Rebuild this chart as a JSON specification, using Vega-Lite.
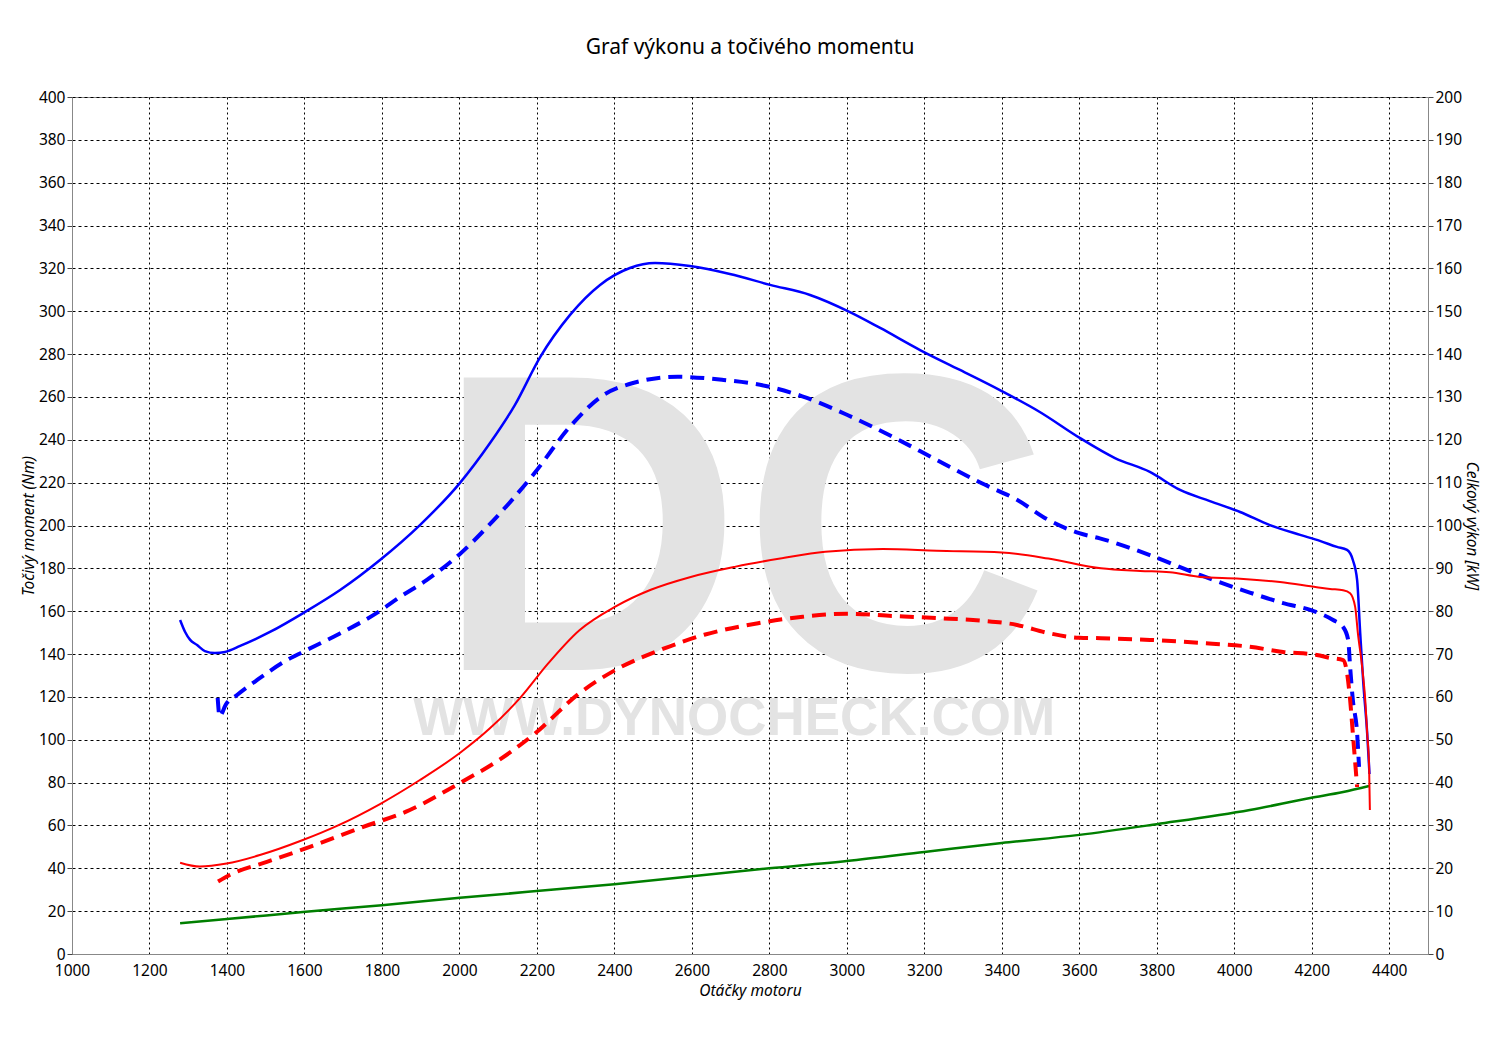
{
  "$schema": "https://vega.github.io/schema/vega-lite/v6.json",
  "width": 1356,
  "height": 857,
  "autosize": {"type": "none"},
  "padding": {"left": 72, "top": 97, "right": 72, "bottom": 87},
  "background": "white",
  "title": {"text": "Graf výkonu a točivého momentu", "font": "Noto Sans", "fontSize": 21, "fontWeight": "normal", "color": "#000", "anchor": "middle", "offset": 32},
  "config": {
    "view": {"stroke": "#888", "strokeWidth": 1},
    "axis": {"labelFont": "Noto Sans", "labelFontSize": 15.5, "labelColor": "#000", "titleFont": "Noto Sans", "titleFontSize": 15.5, "titleFontStyle": "italic", "titleFontWeight": "normal", "titleColor": "#000", "domainColor": "#888", "tickColor": "#444", "tickSize": 5, "format": "d"}
  },
  "datasets": {
    "torque": [
      {"rpm": 1279, "value": 155.9, "series": "tuned"},
      {"rpm": 1292, "value": 150.3, "series": "tuned"},
      {"rpm": 1305, "value": 146.6, "series": "tuned"},
      {"rpm": 1323, "value": 144.2, "series": "tuned"},
      {"rpm": 1343, "value": 141.4, "series": "tuned"},
      {"rpm": 1369, "value": 140.5, "series": "tuned"},
      {"rpm": 1395, "value": 141.0, "series": "tuned"},
      {"rpm": 1434, "value": 143.8, "series": "tuned"},
      {"rpm": 1511, "value": 150.3, "series": "tuned"},
      {"rpm": 1601, "value": 159.6, "series": "tuned"},
      {"rpm": 1692, "value": 169.9, "series": "tuned"},
      {"rpm": 1795, "value": 183.9, "series": "tuned"},
      {"rpm": 1898, "value": 200.2, "series": "tuned"},
      {"rpm": 2001, "value": 219.8, "series": "tuned"},
      {"rpm": 2079, "value": 238.5, "series": "tuned"},
      {"rpm": 2143, "value": 256.2, "series": "tuned"},
      {"rpm": 2208, "value": 278.5, "series": "tuned"},
      {"rpm": 2285, "value": 298.2, "series": "tuned"},
      {"rpm": 2363, "value": 312.3, "series": "tuned"},
      {"rpm": 2440, "value": 320.2, "series": "tuned"},
      {"rpm": 2505, "value": 322.5, "series": "tuned"},
      {"rpm": 2595, "value": 321.1, "series": "tuned"},
      {"rpm": 2698, "value": 317.4, "series": "tuned"},
      {"rpm": 2802, "value": 312.3, "series": "tuned"},
      {"rpm": 2905, "value": 307.6, "series": "tuned"},
      {"rpm": 3008, "value": 299.6, "series": "tuned"},
      {"rpm": 3086, "value": 292.2, "series": "tuned"},
      {"rpm": 3189, "value": 281.9, "series": "tuned"},
      {"rpm": 3292, "value": 272.6, "series": "tuned"},
      {"rpm": 3395, "value": 263.2, "series": "tuned"},
      {"rpm": 3498, "value": 253.0, "series": "tuned"},
      {"rpm": 3602, "value": 240.8, "series": "tuned"},
      {"rpm": 3692, "value": 231.5, "series": "tuned"},
      {"rpm": 3782, "value": 225.0, "series": "tuned"},
      {"rpm": 3860, "value": 216.6, "series": "tuned"},
      {"rpm": 3937, "value": 211.4, "series": "tuned"},
      {"rpm": 4015, "value": 206.3, "series": "tuned"},
      {"rpm": 4092, "value": 200.2, "series": "tuned"},
      {"rpm": 4170, "value": 195.6, "series": "tuned"},
      {"rpm": 4221, "value": 192.8, "series": "tuned"},
      {"rpm": 4265, "value": 190.0, "series": "tuned"},
      {"rpm": 4291, "value": 188.6, "series": "tuned"},
      {"rpm": 4306, "value": 183.9, "series": "tuned"},
      {"rpm": 4317, "value": 174.6, "series": "tuned"},
      {"rpm": 4325, "value": 149.8, "series": "tuned"},
      {"rpm": 4333, "value": 126.5, "series": "tuned"},
      {"rpm": 4343, "value": 103.1, "series": "tuned"},
      {"rpm": 4349, "value": 84.0, "series": "tuned"},
      {"rpm": 1376, "value": 119.5, "series": "stock"},
      {"rpm": 1381, "value": 110.9, "series": "stock"},
      {"rpm": 1397, "value": 116.4, "series": "stock"},
      {"rpm": 1426, "value": 120.9, "series": "stock"},
      {"rpm": 1478, "value": 127.9, "series": "stock"},
      {"rpm": 1555, "value": 137.2, "series": "stock"},
      {"rpm": 1596, "value": 141.0, "series": "stock"},
      {"rpm": 1674, "value": 148.0, "series": "stock"},
      {"rpm": 1787, "value": 159.2, "series": "stock"},
      {"rpm": 1848, "value": 166.8, "series": "stock"},
      {"rpm": 1916, "value": 174.6, "series": "stock"},
      {"rpm": 2000, "value": 186.5, "series": "stock"},
      {"rpm": 2078, "value": 200.5, "series": "stock"},
      {"rpm": 2194, "value": 224.5, "series": "stock"},
      {"rpm": 2286, "value": 246.3, "series": "stock"},
      {"rpm": 2367, "value": 260.3, "series": "stock"},
      {"rpm": 2448, "value": 266.5, "series": "stock"},
      {"rpm": 2563, "value": 269.4, "series": "stock"},
      {"rpm": 2678, "value": 268.0, "series": "stock"},
      {"rpm": 2794, "value": 265.0, "series": "stock"},
      {"rpm": 2885, "value": 260.3, "series": "stock"},
      {"rpm": 3000, "value": 251.7, "series": "stock"},
      {"rpm": 3116, "value": 241.6, "series": "stock"},
      {"rpm": 3231, "value": 230.7, "series": "stock"},
      {"rpm": 3347, "value": 219.8, "series": "stock"},
      {"rpm": 3439, "value": 212.0, "series": "stock"},
      {"rpm": 3520, "value": 202.6, "series": "stock"},
      {"rpm": 3600, "value": 196.4, "series": "stock"},
      {"rpm": 3653, "value": 194.0, "series": "stock"},
      {"rpm": 3782, "value": 186.2, "series": "stock"},
      {"rpm": 3911, "value": 176.9, "series": "stock"},
      {"rpm": 4040, "value": 168.7, "series": "stock"},
      {"rpm": 4126, "value": 163.8, "series": "stock"},
      {"rpm": 4196, "value": 160.6, "series": "stock"},
      {"rpm": 4255, "value": 155.9, "series": "stock"},
      {"rpm": 4281, "value": 152.6, "series": "stock"},
      {"rpm": 4294, "value": 146.6, "series": "stock"},
      {"rpm": 4299, "value": 134.0, "series": "stock"},
      {"rpm": 4306, "value": 118.6, "series": "stock"},
      {"rpm": 4317, "value": 103.1, "series": "stock"},
      {"rpm": 4322, "value": 87.3, "series": "stock"}
    ],
    "power": [
      {"rpm": 1279, "value": 21.3, "series": "tuned"},
      {"rpm": 1330, "value": 20.4, "series": "tuned"},
      {"rpm": 1399, "value": 21.1, "series": "tuned"},
      {"rpm": 1485, "value": 23.1, "series": "tuned"},
      {"rpm": 1596, "value": 26.6, "series": "tuned"},
      {"rpm": 1684, "value": 29.9, "series": "tuned"},
      {"rpm": 1795, "value": 35.0, "series": "tuned"},
      {"rpm": 1898, "value": 40.6, "series": "tuned"},
      {"rpm": 2001, "value": 46.9, "series": "tuned"},
      {"rpm": 2078, "value": 52.6, "series": "tuned"},
      {"rpm": 2159, "value": 60.0, "series": "tuned"},
      {"rpm": 2228, "value": 67.7, "series": "tuned"},
      {"rpm": 2309, "value": 75.5, "series": "tuned"},
      {"rpm": 2401, "value": 81.0, "series": "tuned"},
      {"rpm": 2494, "value": 85.0, "series": "tuned"},
      {"rpm": 2597, "value": 88.0, "series": "tuned"},
      {"rpm": 2713, "value": 90.4, "series": "tuned"},
      {"rpm": 2828, "value": 92.3, "series": "tuned"},
      {"rpm": 2944, "value": 93.9, "series": "tuned"},
      {"rpm": 3093, "value": 94.5, "series": "tuned"},
      {"rpm": 3232, "value": 94.1, "series": "tuned"},
      {"rpm": 3400, "value": 93.7, "series": "tuned"},
      {"rpm": 3520, "value": 92.3, "series": "tuned"},
      {"rpm": 3656, "value": 90.0, "series": "tuned"},
      {"rpm": 3757, "value": 89.4, "series": "tuned"},
      {"rpm": 3834, "value": 89.1, "series": "tuned"},
      {"rpm": 3911, "value": 88.0, "series": "tuned"},
      {"rpm": 4015, "value": 87.6, "series": "tuned"},
      {"rpm": 4118, "value": 86.8, "series": "tuned"},
      {"rpm": 4213, "value": 85.6, "series": "tuned"},
      {"rpm": 4247, "value": 85.2, "series": "tuned"},
      {"rpm": 4281, "value": 84.9, "series": "tuned"},
      {"rpm": 4299, "value": 84.2, "series": "tuned"},
      {"rpm": 4312, "value": 81.0, "series": "tuned"},
      {"rpm": 4319, "value": 74.9, "series": "tuned"},
      {"rpm": 4330, "value": 67.0, "series": "tuned"},
      {"rpm": 4338, "value": 59.3, "series": "tuned"},
      {"rpm": 4343, "value": 51.5, "series": "tuned"},
      {"rpm": 4348, "value": 43.6, "series": "tuned"},
      {"rpm": 4350, "value": 33.6, "series": "tuned"},
      {"rpm": 1377, "value": 16.9, "series": "stock"},
      {"rpm": 1408, "value": 18.5, "series": "stock"},
      {"rpm": 1503, "value": 21.5, "series": "stock"},
      {"rpm": 1614, "value": 25.0, "series": "stock"},
      {"rpm": 1743, "value": 29.4, "series": "stock"},
      {"rpm": 1872, "value": 33.6, "series": "stock"},
      {"rpm": 2001, "value": 39.9, "series": "stock"},
      {"rpm": 2101, "value": 45.2, "series": "stock"},
      {"rpm": 2194, "value": 51.4, "series": "stock"},
      {"rpm": 2309, "value": 60.8, "series": "stock"},
      {"rpm": 2401, "value": 66.2, "series": "stock"},
      {"rpm": 2517, "value": 70.9, "series": "stock"},
      {"rpm": 2632, "value": 74.5, "series": "stock"},
      {"rpm": 2771, "value": 77.2, "series": "stock"},
      {"rpm": 2886, "value": 78.7, "series": "stock"},
      {"rpm": 3000, "value": 79.4, "series": "stock"},
      {"rpm": 3116, "value": 78.9, "series": "stock"},
      {"rpm": 3231, "value": 78.4, "series": "stock"},
      {"rpm": 3347, "value": 77.8, "series": "stock"},
      {"rpm": 3439, "value": 76.8, "series": "stock"},
      {"rpm": 3520, "value": 74.9, "series": "stock"},
      {"rpm": 3600, "value": 73.8, "series": "stock"},
      {"rpm": 3656, "value": 73.7, "series": "stock"},
      {"rpm": 3782, "value": 73.3, "series": "stock"},
      {"rpm": 3911, "value": 72.6, "series": "stock"},
      {"rpm": 4040, "value": 71.7, "series": "stock"},
      {"rpm": 4126, "value": 70.5, "series": "stock"},
      {"rpm": 4213, "value": 69.8, "series": "stock"},
      {"rpm": 4247, "value": 69.1, "series": "stock"},
      {"rpm": 4281, "value": 68.6, "series": "stock"},
      {"rpm": 4291, "value": 65.6, "series": "stock"},
      {"rpm": 4299, "value": 59.3, "series": "stock"},
      {"rpm": 4306, "value": 51.5, "series": "stock"},
      {"rpm": 4313, "value": 43.6, "series": "stock"},
      {"rpm": 4317, "value": 39.0, "series": "stock"},
      {"rpm": 1279, "value": 7.2, "series": "loss"},
      {"rpm": 1400, "value": 8.15, "series": "loss"},
      {"rpm": 1596, "value": 9.8, "series": "loss"},
      {"rpm": 1800, "value": 11.4, "series": "loss"},
      {"rpm": 2001, "value": 13.1, "series": "loss"},
      {"rpm": 2400, "value": 16.3, "series": "loss"},
      {"rpm": 2800, "value": 20.0, "series": "loss"},
      {"rpm": 3000, "value": 21.7, "series": "loss"},
      {"rpm": 3200, "value": 23.8, "series": "loss"},
      {"rpm": 3400, "value": 25.9, "series": "loss"},
      {"rpm": 3600, "value": 27.8, "series": "loss"},
      {"rpm": 3800, "value": 30.3, "series": "loss"},
      {"rpm": 4040, "value": 33.6, "series": "loss"},
      {"rpm": 4196, "value": 36.4, "series": "loss"},
      {"rpm": 4281, "value": 37.8, "series": "loss"},
      {"rpm": 4348, "value": 39.2, "series": "loss"}
    ],
    "watermark": [
      {"rpm": 2730, "value": 132.6, "label": "DC"},
      {"rpm": 2709, "value": 102.2, "label": "WWW.DYNOCHECK.COM"}
    ]
  },
  "layer": [
    {
      "encoding": {
        "x": {"field": "rpm", "type": "quantitative", "scale": {"domain": [1000, 4500], "nice": false, "zero": false},
          "axis": {"title": "Otáčky motoru", "values": [1000, 1200, 1400, 1600, 1800, 2000, 2200, 2400, 2600, 2800, 3000, 3200, 3400, 3600, 3800, 4000, 4200, 4400], "grid": true, "gridColor": "#000", "gridDash": [2, 3], "gridOpacity": 1, "gridWidth": 1, "labelFlush": false, "ticks": false, "tickSize": 0, "labelPadding": 9, "titlePadding": 5}},
        "y": {"field": "value", "type": "quantitative", "scale": {"domain": [0, 400], "nice": false},
          "axis": {"title": "Točivý moment (Nm)", "orient": "left", "values": [0, 20, 40, 60, 80, 100, 120, 140, 160, 180, 200, 220, 240, 260, 280, 300, 320, 340, 360, 380, 400], "grid": true, "gridColor": "#000", "gridDash": [3, 3], "gridOpacity": 1, "gridWidth": 1, "labelPadding": 2, "titlePadding": 2}}
      },
      "layer": [
        {"data": {"name": "watermark"}, "transform": [{"filter": "datum.label === 'DC'"}],
          "mark": {"type": "text", "font": "Liberation Sans", "fontWeight": "bold", "fontSize": 425, "color": "#e3e3e3", "align": "center", "baseline": "alphabetic"},
          "encoding": {"text": {"field": "label"}}},
        {"data": {"name": "watermark"}, "transform": [{"filter": "datum.label !== 'DC'"}],
          "mark": {"type": "text", "font": "Liberation Sans", "fontWeight": "bold", "fontSize": 53, "color": "#e3e3e3", "align": "center", "baseline": "alphabetic"},
          "encoding": {"text": {"field": "label"}}},
        {"data": {"name": "torque"}, "transform": [{"filter": "datum.series === 'stock'"}],
          "mark": {"type": "line", "color": "#0000ff", "strokeWidth": 4, "strokeDash": [14, 8], "interpolate": "monotone"}, "encoding": {}},
        {"data": {"name": "torque"}, "transform": [{"filter": "datum.series === 'tuned'"}],
          "mark": {"type": "line", "color": "#0000ff", "strokeWidth": 2.5, "interpolate": "monotone"}, "encoding": {}}
      ]
    },
    {
      "data": {"name": "power"},
      "encoding": {
        "x": {"field": "rpm", "type": "quantitative", "scale": {"domain": [1000, 4500], "nice": false, "zero": false},
          "axis": {"title": "Otáčky motoru", "values": [1000, 1200, 1400, 1600, 1800, 2000, 2200, 2400, 2600, 2800, 3000, 3200, 3400, 3600, 3800, 4000, 4200, 4400], "grid": true, "gridColor": "#000", "gridDash": [2, 3], "gridOpacity": 1, "gridWidth": 1, "labelFlush": false, "ticks": false, "tickSize": 0, "labelPadding": 9, "titlePadding": 5}},
        "y": {"field": "value", "type": "quantitative", "scale": {"domain": [0, 200], "nice": false},
          "axis": {"title": "Celkový výkon [kW]", "orient": "right", "values": [0, 10, 20, 30, 40, 50, 60, 70, 80, 90, 100, 110, 120, 130, 140, 150, 160, 170, 180, 190, 200], "grid": false, "labelPadding": 2, "titlePadding": 2}}
      },
      "layer": [
        {"transform": [{"filter": "datum.series === 'loss'"}], "mark": {"type": "line", "color": "#007f00", "strokeWidth": 2.5, "interpolate": "monotone"}, "encoding": {}},
        {"transform": [{"filter": "datum.series === 'stock'"}], "mark": {"type": "line", "color": "#ff0000", "strokeWidth": 4, "strokeDash": [14, 8], "interpolate": "monotone"}, "encoding": {}},
        {"transform": [{"filter": "datum.series === 'tuned'"}], "mark": {"type": "line", "color": "#ff0000", "strokeWidth": 2, "interpolate": "monotone"}, "encoding": {}}
      ]
    }
  ],
  "resolve": {"scale": {"y": "independent"}, "axis": {"y": "independent"}}
}
